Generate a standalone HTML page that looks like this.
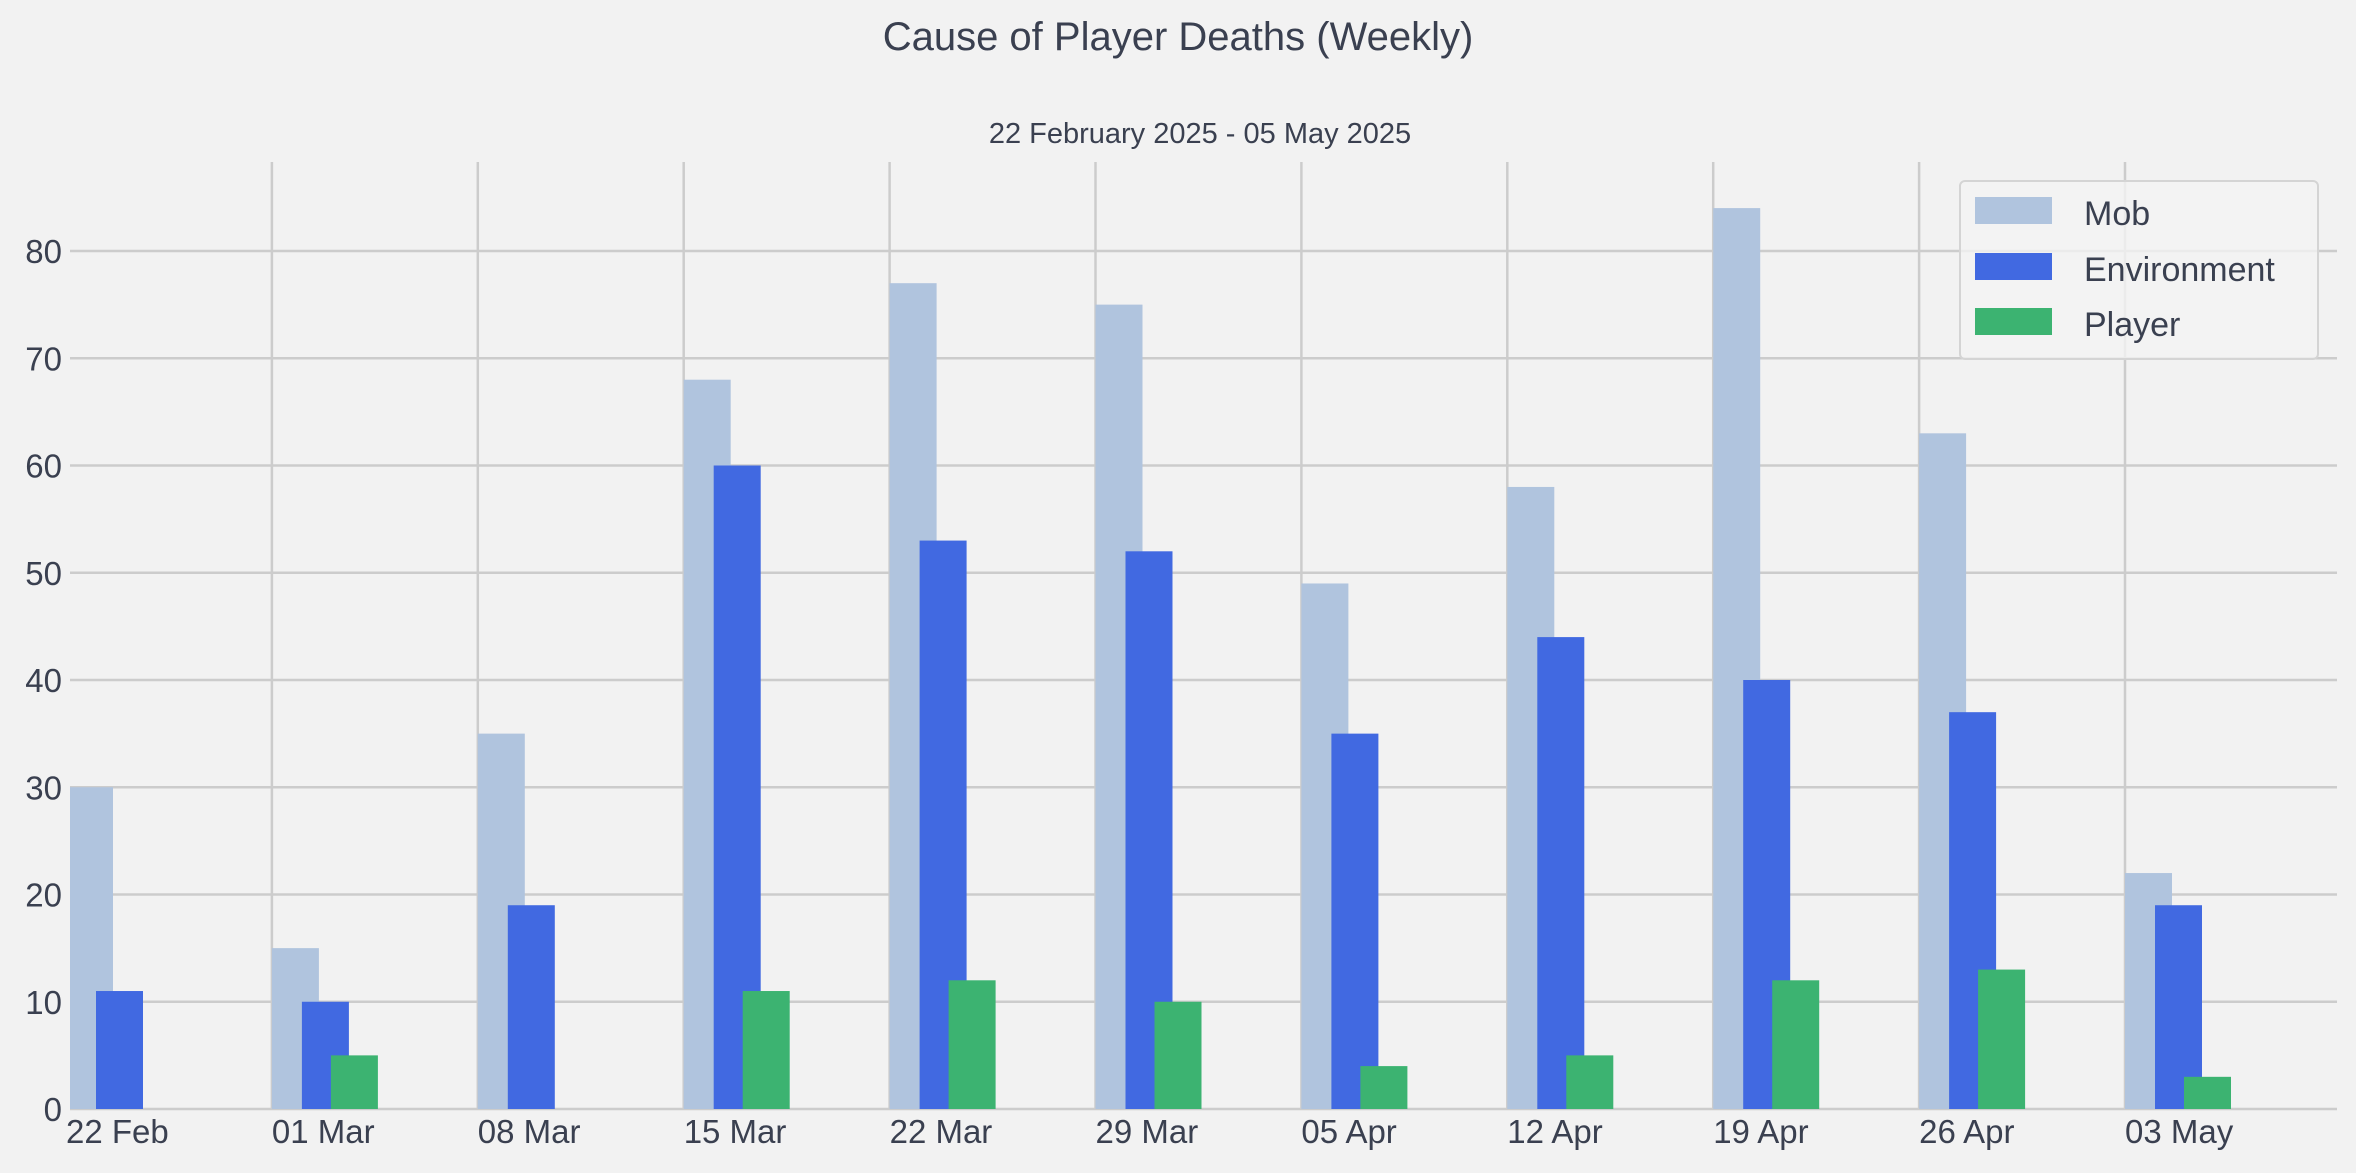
<!DOCTYPE html>
<html><head><meta charset="utf-8"><style>
html,body{margin:0;padding:0;background:#f2f2f2;}
svg{display:block;font-family:"Liberation Sans",sans-serif;}
</style></head><body>
<svg id="chart" width="2356" height="1173" viewBox="0 0 2356 1173" xmlns="http://www.w3.org/2000/svg">
<rect width="2356" height="1173" fill="#f2f2f2"/>
<text x="1178" y="50" text-anchor="middle" font-size="40" fill="#3a4050">Cause of Player Deaths (Weekly)</text>
<text x="1200" y="143" text-anchor="middle" font-size="29" fill="#3a4050">22 February 2025 - 05 May 2025</text>
<g id="grid"></g>
<g id="bars"></g>
<g id="labels"></g>
<g>
<rect x="1960" y="181" width="358" height="178" rx="5" fill="#f2f2f2" fill-opacity="0.8" stroke="#d4d4d4" stroke-width="2"/>
<rect x="1975" y="197" width="77" height="27" fill="#b0c4de"/>
<text x="2084" y="225" font-size="34" fill="#3a4050">Mob</text>
<rect x="1975" y="253" width="77" height="27" fill="#4169e1"/>
<text x="2084" y="281" font-size="34" fill="#3a4050">Environment</text>
<rect x="1975" y="308" width="77" height="27" fill="#3cb371"/>
<text x="2084" y="336" font-size="34" fill="#3a4050">Player</text>
</g>
</svg>
<script>
const categories = ["22 Feb","01 Mar","08 Mar","15 Mar","22 Mar","29 Mar","05 Apr","12 Apr","19 Apr","26 Apr","03 May"];
const mobValues = [30,15,35,68,77,75,49,58,84,63,22];
const envValues = [11,10,19,60,53,52,35,44,40,37,19];
const playerValues = [0,5,0,11,12,10,4,5,12,13,3];
const yTicks = [0,10,20,30,40,50,60,70,80];

const NS = "http://www.w3.org/2000/svg";
const L = 70, R = 2337, T = 162, B = 1109;
const x0 = 66, step = 205.9, bw = 47;
const yScale = v => B - v * 10.725;
const xScale = i => x0 + i * step;
function mk(tag, attrs, parent) {
  const e = document.createElementNS(NS, tag);
  for (const k in attrs) e.setAttribute(k, attrs[k]);
  parent.appendChild(e);
  return e;
}
const grid = document.getElementById('grid');
const bars = document.getElementById('bars');
const labels = document.getElementById('labels');
yTicks.forEach(v => {
  const l = mk('line', {x1: L, x2: R, y1: yScale(v), y2: yScale(v), stroke: '#cccccc', 'stroke-width': 2.5}, grid);
  
  
  const t = mk('text', {x: 62, y: yScale(v) + 12, 'text-anchor': 'end', 'font-size': 33, fill: '#3a4050'}, labels);
  t.textContent = v;
  
  
});
categories.forEach((c, i) => {
  const x = xScale(i);
  if (x > L) {
    const g = mk('line', {x1: x, x2: x, y1: T, y2: B, stroke: '#cccccc', 'stroke-width': 2.5}, grid);
    
    
  }
  const series = [[mobValues, '#b0c4de', 0, 'bar-mob'], [envValues, '#4169e1', 30, 'bar-environment'], [playerValues, '#3cb371', 59, 'bar-player']];
  series.forEach(([vals, col, off, name]) => {
    let bx = x + off, w = bw;
    if (bx < L) { w -= (L - bx); bx = L; }
    const v = vals[i];
    const r = mk('rect', {x: bx, y: yScale(v), width: w, height: B - yScale(v), fill: col}, bars);
    
    
  });
  const t = mk('text', {x: Math.max(x, 66), y: 1143, 'font-size': 33, fill: '#3a4050'}, labels);
  t.textContent = c;
  
  
});
</script>
</body></html>
